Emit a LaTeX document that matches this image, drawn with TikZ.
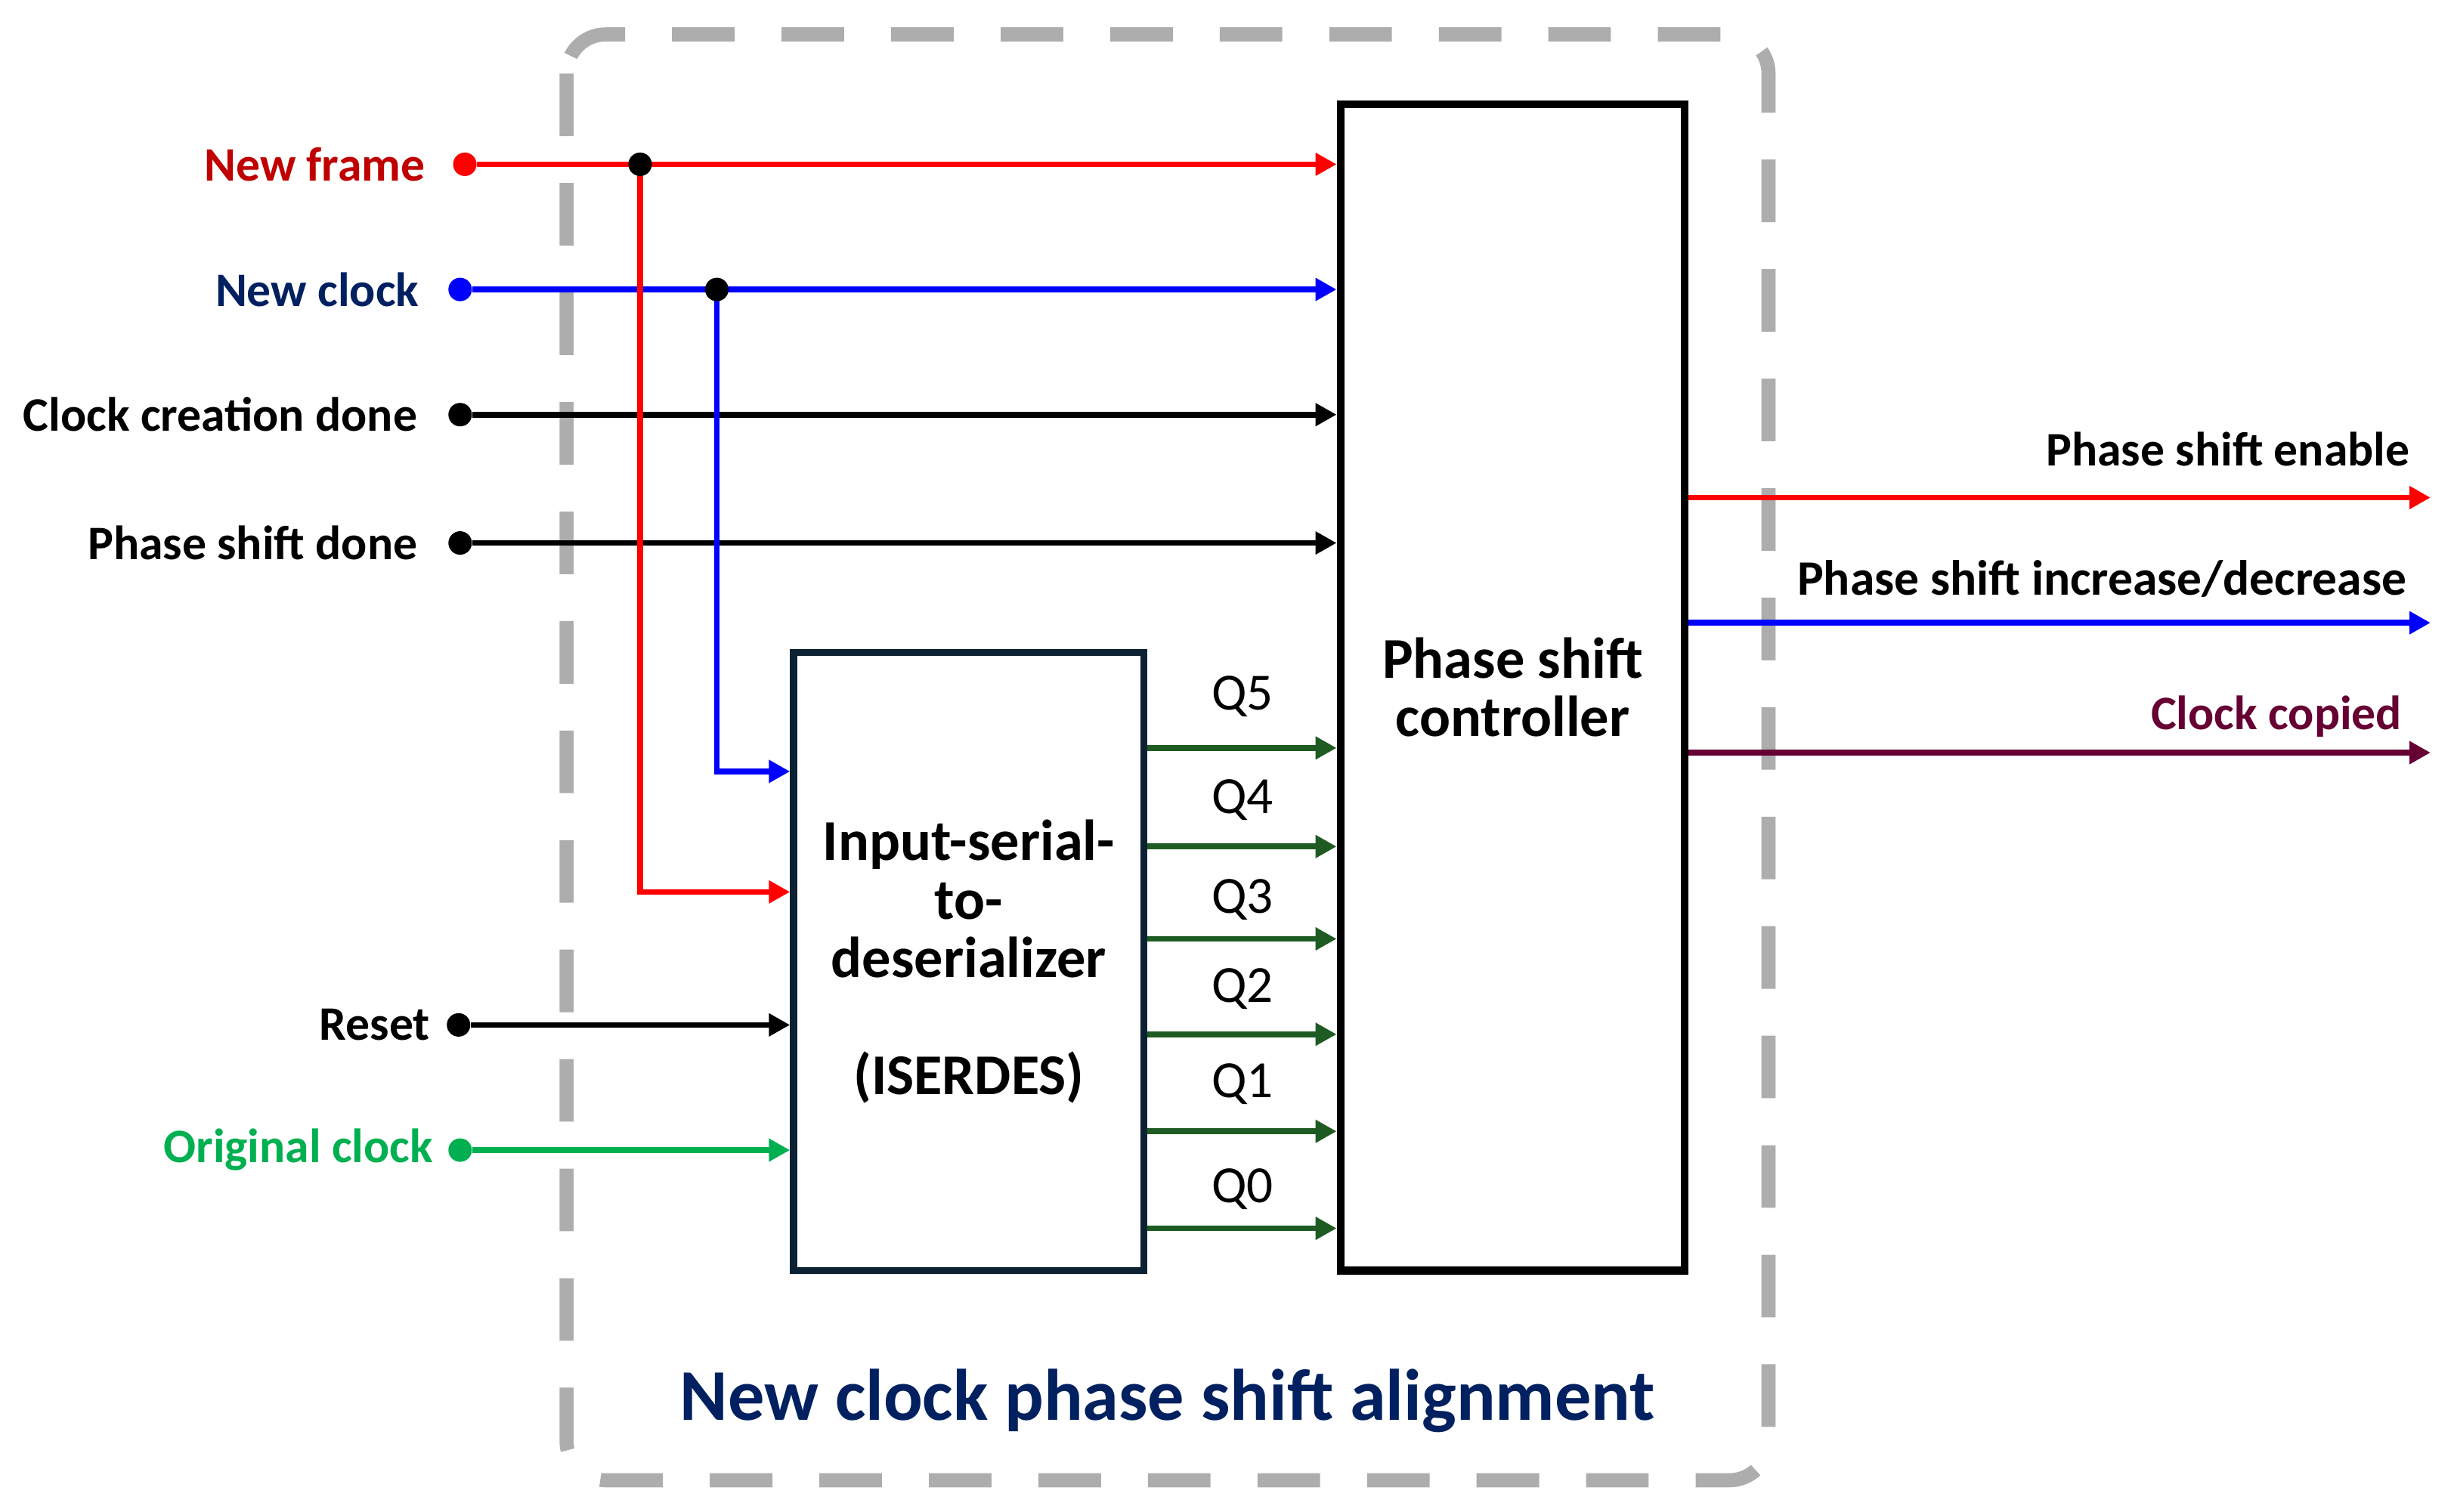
\documentclass[tikz,border=0pt]{standalone}
\usepackage{fontspec}
\setmainfont{Carlito}
\usetikzlibrary{arrows.meta}
\definecolor{cred}{HTML}{FF0000}
\definecolor{dred}{HTML}{C00000}
\definecolor{cblue}{HTML}{0000FF}
\definecolor{navy}{HTML}{002060}
\definecolor{cgreen}{HTML}{00B050}
\definecolor{qgreen}{HTML}{1E5B22}
\definecolor{maroon}{HTML}{660033}
\definecolor{dashgray}{HTML}{ADADAD}
\definecolor{boxnavy}{HTML}{0C2233}
\begin{document}
\begin{tikzpicture}[x=0.02cm,y=-0.02cm,
  sig/.style={line width=2.1pt,-{Triangle[length=0.27cm,width=0.28cm]}},
  dot/.style={circle,fill,inner sep=0pt,minimum size=0.3cm},
  lbl/.style={font=\bfseries\fontsize{17.5}{20}\selectfont,anchor=east,inner sep=0pt},
  qlbl/.style={font=\fontsize{19}{22}\selectfont,inner sep=0pt},
  blocktxt/.style={font=\bfseries\fontsize{21}{21.3}\selectfont,align=center}]
\useasboundingbox (0,0) rectangle (1568,966);

% outer dashed frame
\draw[dashgray,line width=0.18cm,rounded corners=0.5cm,dash pattern=on 0.8cm off 0.6cm]
  (362,22) rectangle (1130,946);

% blocks
\node[draw=black,line width=0.1cm,minimum width=4.4cm,minimum height=14.91cm,inner sep=0pt,blocktxt] (ctrl) at (966.5,439.25) {Phase shift\\[0pt]controller};
\node[draw=boxnavy,line width=0.09cm,minimum width=4.48cm,minimum height=7.9cm,inner sep=0pt,blocktxt] (iser) at (619,614.5) {Input-serial-\\to-\\deserializer\\[21.3pt](ISERDES)};

% input dots
\node[dot,cred] (d1) at (297,105) {};
\node[dot,cblue] (d2) at (294,185) {};
\node[dot,black] (d3) at (294,265) {};
\node[dot,black] (d4) at (294,347) {};
\node[dot,black] (d5) at (293,655) {};
\node[dot,cgreen] (d6) at (294,735) {};

% input labels
\node[lbl,dred] (l1) at (272,105) {New frame};
\node[lbl,navy] (l2) at (268,185) {New clock};
\node[lbl,black] (l3) at (267,265) {Clock creation done};
\node[lbl,black] (l4) at (267,347) {Phase shift done};
\node[lbl,black] (l5) at (275,655) {Reset};
\node[lbl,cgreen] (l6) at (277,735) {Original clock};

% junctions
\coordinate (j1) at (409,105);
\coordinate (j2) at (458,185);

% input connectors
\draw[sig,cred] (d1) -- (d1 -| ctrl.west);
\draw[sig,cblue] (d2) -- (d2 -| ctrl.west);
\draw[sig,black] (d3) -- (d3 -| ctrl.west);
\draw[sig,black] (d4) -- (d4 -| ctrl.west);
\draw[sig,black] (d5) -- (d5 -| iser.west);
\draw[sig,cgreen] (d6) -- (d6 -| iser.west);
\draw[sig,cred] (j1) |- (iser.west |- 0,570);
\draw[sig,cblue] (j2) |- (iser.west |- 0,493);

\node[dot,black] (jn1) at (j1) {};
\node[dot,black] (jn2) at (j2) {};

% Q outputs
\foreach \q/\y/\ly in {5/478/445,4/541/511,3/600/575,2/661/632,1/723/693,0/785/760}{
  \draw[sig,qgreen] (iser.east |- 0,\y) -- (ctrl.west |- 0,\y);
  \node[qlbl] (q\q) at (794,\ly) {Q\q};
}

% outputs
\coordinate (o1) at (1553,318);
\coordinate (o2) at (1553,398);
\coordinate (o3) at (1553,481);
\draw[sig,cred] (ctrl.east |- o1) -- (o1);
\draw[sig,cblue] (ctrl.east |- o2) -- (o2);
\draw[sig,maroon] (ctrl.east |- o3) -- (o3);
\node[lbl,black] (r1) at (1540,287) {Phase shift enable};
\node[lbl,black,font=\bfseries\fontsize{18}{20}\selectfont] (r2) at (1538,370) {Phase shift increase/decrease};
\node[lbl,maroon] (r3) at (1535,458) {Clock copied};

% title
\node[font=\bfseries\fontsize{26.5}{30}\selectfont,navy,inner sep=0pt] (title) at (746,895) {New clock phase shift alignment};
\end{tikzpicture}
\end{document}
